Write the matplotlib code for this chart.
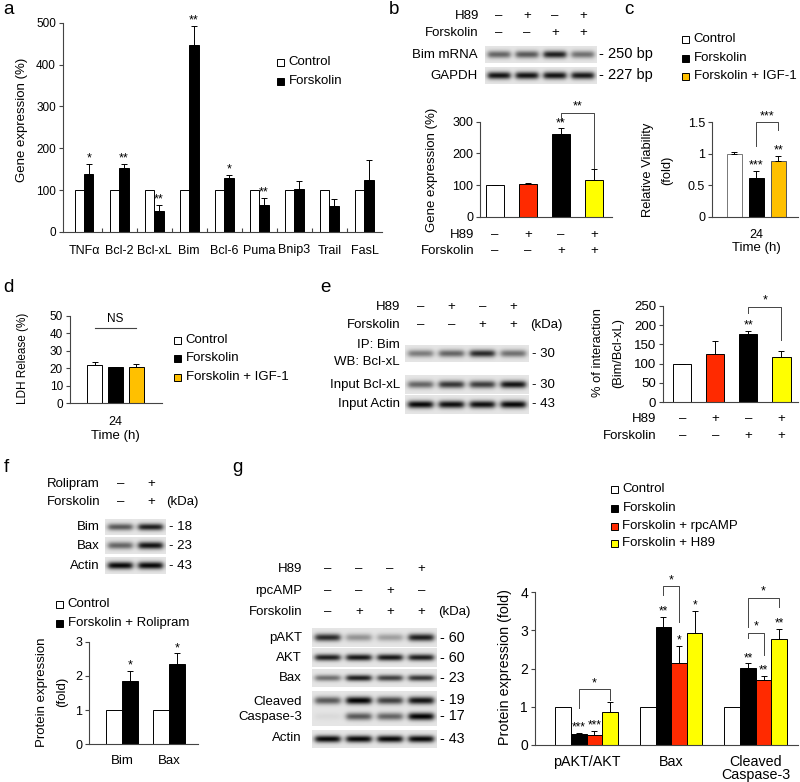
import numpy as np
import matplotlib
matplotlib.use("Agg")
import matplotlib.pyplot as plt

plt.rcParams['font.family'] = ['Liberation Sans', 'DejaVu Sans']

W, H = 800, 782
RED = "#ff2a00"
YEL = "#ffff00"
ORA = "#ffc000"

# ---- data ----
a_genes = ["TNFα", "Bcl-2", "Bcl-xL", "Bim", "Bcl-6", "Puma", "Bnip3", "Trail", "FasL"]
a_control = [100, 100, 100, 100, 100, 100, 100, 100, 100]
a_forsk = [139, 154, 51, 447, 129, 64, 103, 61, 124]
a_forsk_err = [24, 9, 14, 46, 8, 17, 18, 17, 47]
a_stars = ["*", "**", "**", "**", "*", "**", "", "", ""]

b_h89 = ["–", "+", "–", "+"]
b_forsk = ["–", "–", "+", "+"]
b_vals = [100, 104, 261, 115]
b_err = [0, 4, 18, 35]
b_stars = ["", "", "**", ""]
b_bim_bands = [0.55, 0.6, 0.85, 0.5]
b_gapdh_bands = [0.9, 0.9, 0.9, 0.88]

c_vals = [1.0, 0.62, 0.89]
c_err = [0.03, 0.11, 0.08]
c_stars = ["", "***", "**"]

d_vals = [22, 20.5, 21]
d_err = [1.8, 0.5, 1.3]

e_h89 = ["–", "+", "–", "+"]
e_forsk = ["–", "–", "+", "+"]
e_vals = [100, 124, 176, 117]
e_err = [0, 35, 9, 16]
e_stars = ["", "", "**", ""]
e_ip_bands = [0.45, 0.55, 0.8, 0.5]
e_bclxl_bands = [0.55, 0.75, 0.72, 0.9]
e_actin_bands = [0.95, 0.92, 0.92, 0.95]

f_roli = ["–", "+"]
f_forsk = ["–", "+"]
f_groups = ["Bim", "Bax"]
f_ctrl = [1, 1]
f_fr = [1.86, 2.34]
f_err = [0.29, 0.32]
f_bim_bands = [0.6, 0.85]
f_bax_bands = [0.55, 0.9]
f_actin_bands = [0.95, 0.95]

g_h89 = ["–", "–", "–", "+"]
g_rpc = ["–", "–", "+", "–"]
g_forsk = ["–", "+", "+", "+"]
g_groups = ["pAKT/AKT", "Bax", "Cleaved\nCaspase-3"]
g_ctrl = [1, 1, 1]
g_fk = [0.28, 3.10, 2.03]
g_fk_err = [0.03, 0.26, 0.11]
g_rpc_v = [0.27, 2.15, 1.70]
g_rpc_err = [0.10, 0.45, 0.11]
g_h89_v = [0.86, 2.94, 2.77]
g_h89_err = [0.27, 0.58, 0.27]
g_fk_stars = ["***", "**", "**"]
g_rpc_stars = ["***", "*", "**"]
g_h89_stars = ["", "*", "**"]
g_pakt_bands = [0.8, 0.35, 0.3, 0.85]
g_akt_bands = [0.85, 0.88, 0.88, 0.85]
g_bax_bands = [0.5, 0.85, 0.7, 0.75]
g_c19_bands = [0.6, 0.97, 0.7, 0.9]
g_c17_bands = [0.05, 0.6, 0.55, 0.97]
g_actin_bands = [0.95, 0.95, 0.95, 0.95]


fig = plt.figure(figsize=(W / 100, H / 100), dpi=100)
ov = fig.add_axes([0, 0, 1, 1])
ov.set_xlim(0, W)
ov.set_ylim(H, 0)
ov.axis('off')


def ax_px(l, t, r, b):
    ax = fig.add_axes([l / W, 1 - b / H, (r - l) / W, (b - t) / H])
    ax.set_facecolor('none')
    for s in ['top', 'right']:
        ax.spines[s].set_visible(False)
    for s in ['left', 'bottom']:
        ax.spines[s].set_color('#444444')
        ax.spines[s].set_linewidth(0.8)
    ax.tick_params(axis='y', direction='out', length=3, width=0.8, color='#444444', pad=2)
    ax.tick_params(axis='x', length=0)
    return ax


def gel(x0, x1, y0, y1, rows, bg=0.9):
    # rows: list of (intensities, y-fraction of band centre, thickness)
    n = len(rows[0][0])
    w = int((x1 - x0) * 3)
    h = int((y1 - y0) * 3)
    xx = np.linspace(0, n, w)
    yy = np.linspace(0, 1, h)
    img = np.full((h, w), bg)
    for inten, yc, th in rows:
        for i, v in enumerate(inten):
            hx = 1 / (1 + np.exp((np.abs(xx - (i + 0.5)) - 0.4) / 0.05))
            vy = np.exp(-((yy - yc) / th) ** 2)
            img -= 0.92 * v * np.outer(vy, hx)
    ov.imshow(np.clip(img, 0, 1), cmap='gray', vmin=0, vmax=1, aspect='auto',
              extent=(x0, x1, y1, y0), interpolation='bilinear', zorder=1)
    return [x0 + (i + 0.5) * (x1 - x0) / n for i in range(n)]


def T(x, y, s, fs=9.5, ha='center', va='center', **kw):
    ov.text(x, y, s, fontsize=fs, ha=ha, va=va, **kw)


def legend_sq(x, y, color, label, fs=9.5, sz=7):
    ov.add_patch(plt.Rectangle((x - sz / 2, y - sz / 2), sz, sz, facecolor=color,
                               edgecolor='black', lw=0.7, zorder=3))
    T(x + sz / 2 + 5, y, label, fs=fs, ha='left')


def errbars(ax, x, v, e, cap=2):
    ax.errorbar(x, v, yerr=[np.zeros(len(v)), e], fmt='none', ecolor='black',
                elinewidth=0.7, capsize=cap, capthick=0.7)


def stars(ax, x, v, e, s, fs=9):
    for xi, vi, ei, si in zip(x, v, e, s):
        if si:
            ax.annotate(si, (xi, vi + ei), xytext=(0, -0.5), textcoords='offset points',
                        ha='center', va='bottom', fontsize=fs, annotation_clip=False)


def bracket(ax, x1, x2, top, l1, l2, s, fs=9):
    ax.plot([x1, x1, x2, x2], [l1, top, top, l2], color='#444444', lw=0.7, clip_on=False)
    ax.annotate(s, ((x1 + x2) / 2, top), xytext=(0, 0), textcoords='offset points',
                ha='center', va='bottom', fontsize=fs, annotation_clip=False)


def sign_rows(ax, rows, labels, offs, fs=9.5, lab_dx=-6):
    for (signs, lab, dy) in zip(rows, labels, offs):
        for i, s in enumerate(signs):
            ax.annotate(s, (i, 0), xycoords=('data', 'axes fraction'), xytext=(0, -dy),
                        textcoords='offset points', ha='center', va='center', fontsize=fs,
                        annotation_clip=False)
        ax.annotate(lab, (0, 0), xycoords='axes fraction', xytext=(lab_dx, -dy),
                    textcoords='offset points', ha='right', va='center', fontsize=fs,
                    annotation_clip=False)


# ---------------- panel a ----------------
ax = ax_px(63, 22.7, 382, 232)
x = np.arange(len(a_genes))
bw = 0.27
ax.bar(x - bw / 2, a_control, bw, color='white', edgecolor='black', lw=0.7)
ax.bar(x + bw / 2, a_forsk, bw, color='black', edgecolor='black', lw=0.7)
errbars(ax, x + bw / 2, a_forsk, a_forsk_err)
stars(ax, x + bw / 2, a_forsk, a_forsk_err, a_stars)
ax.set_xlim(-0.6, 8.5)
ax.set_ylim(0, 500)
ax.set_yticks(range(0, 501, 100))
ax.set_xticks(x)
ax.set_xticklabels(a_genes, fontsize=9)
ax.tick_params(axis='x', pad=9)
ax.set_xticks(x[:-1] + 0.5, minor=True)
ax.tick_params(axis='x', which='minor', direction='in', length=3, width=0.8, color='#444444')
ax.tick_params(axis='y', labelsize=8.5)
T(22, 120, "Gene expression (%)", fs=9.5, rotation=90)
legend_sq(280, 62, 'white', "Control")
legend_sq(280, 81, 'black', "Forskolin")
T(8, 9, "a", fs=13.5)

# ---------------- panel b ----------------
T(394, 9, "b", fs=13.5)
cx = gel(485, 597, 46, 63, [(b_bim_bands, 0.5, 0.22)])
gel(485, 597, 67, 84, [(b_gapdh_bands, 0.5, 0.22)])
for xi, h, f in zip(cx, b_h89, b_forsk):
    T(xi, 16, h)
    T(xi, 33, f)
T(479, 16, "H89", ha='right')
T(479, 33, "Forskolin", ha='right')
T(478, 55, "Bim mRNA", ha='right')
T(478, 76, "GAPDH", ha='right')
T(599, 54, "- 250 bp", fs=10.5, ha='left')
T(599, 75, "- 227 bp", fs=10.5, ha='left')

ax = ax_px(480, 121.7, 612, 216.7)
x = np.arange(4)
ax.bar(x, b_vals, 0.53, color=['white', RED, 'black', YEL], edgecolor='black', lw=0.7)
errbars(ax, x, b_vals, b_err)
stars(ax, x, b_vals, b_err, b_stars)
bracket(ax, 2, 3, 329, 305, 155, "**")
ax.set_xlim(-0.45, 3.55)
ax.set_ylim(0, 300)
ax.set_yticks([0, 100, 200, 300])
ax.set_xticks([])
ax.tick_params(axis='y', labelsize=9)
sign_rows(ax, [b_h89, b_forsk], ["H89", "Forskolin"], [13.5, 24.5], lab_dx=-4)
T(432, 170, "Gene expression (%)", rotation=90)

# ---------------- panel c ----------------
T(629, 9, "c", fs=13.5)
legend_sq(685, 39, 'white', "Control")
legend_sq(685, 58, 'black', "Forskolin")
legend_sq(685, 76, ORA, "Forskolin + IGF-1")
ax = ax_px(712, 122.3, 798, 216.7)
x = np.arange(3)
ax.bar(x, c_vals, 0.68, color=['white', 'black', ORA], edgecolor=['#777777', 'black', '#555555'], lw=0.7)
errbars(ax, x, c_vals, c_err)
stars(ax, x, c_vals, c_err, c_stars)
bracket(ax, 1, 2, 1.5, 1.13, 1.37, "***")
ax.set_xlim(-1.0, 2.9)
ax.set_ylim(0, 1.5)
ax.set_yticks([0, 0.5, 1, 1.5])
ax.set_yticklabels(["0", "0.5", "1", "1.5"])
ax.set_xticks([1])
ax.set_xticklabels(["24"], fontsize=9)
ax.tick_params(axis='x', pad=9)
ax.tick_params(axis='y', labelsize=9)
T(756, 248, "Time (h)")
T(648, 170, "Relative Viability", fs=9.3, rotation=90)
T(667, 170, "(fold)", fs=9.3, rotation=90)

# ---------------- panel d ----------------
T(8, 287, "d", fs=13.5)
ax = ax_px(70, 315.7, 162, 403.3)
x = np.arange(3)
ax.bar(x, d_vals, 0.72, color=['white', 'black', ORA], edgecolor='black', lw=0.7)
errbars(ax, x, d_vals, d_err)
ax.plot([0, 2], [43, 43], color='#444444', lw=0.8)
ax.text(1, 48, "NS", ha='center', va='center', fontsize=8.5)
ax.set_xlim(-1.18, 3.25)
ax.set_ylim(0, 50)
ax.set_yticks(range(0, 51, 10))
ax.set_xticks([1])
ax.set_xticklabels(["24"], fontsize=9)
ax.tick_params(axis='x', pad=9)
ax.tick_params(axis='y', labelsize=8.5)
T(115, 436, "Time (h)")
T(23, 358, "LDH Release (%)", fs=8.5, rotation=90)
legend_sq(177, 340, 'white', "Control")
legend_sq(177, 358, 'black', "Forskolin")
legend_sq(177, 377, ORA, "Forskolin + IGF-1")

# ---------------- panel e ----------------
T(325, 287, "e", fs=13.5)
cx = gel(405, 529, 345, 362, [(e_ip_bands, 0.5, 0.22)])
gel(405, 529, 375, 394, [(e_bclxl_bands, 0.5, 0.2)])
gel(405, 529, 395, 414, [(e_actin_bands, 0.5, 0.2)])
for xi, h, f in zip(cx, e_h89, e_forsk):
    T(xi, 307, h)
    T(xi, 325, f)
T(400, 307, "H89", ha='right')
T(400, 325, "Forskolin", ha='right')
T(546, 325, "(kDa)")
T(400, 345, "IP: Bim", ha='right')
T(400, 362, "WB: Bcl-xL", ha='right')
T(400, 385, "Input Bcl-xL", ha='right')
T(400, 404, "Input Actin", ha='right')
T(532, 354, "- 30", ha='left')
T(532, 385, "- 30", ha='left')
T(532, 404, "- 43", ha='left')

ax = ax_px(663, 305.7, 798, 402.3)
x = np.arange(4)
ax.bar(x, e_vals, 0.55, color=['white', RED, 'black', YEL], edgecolor='black', lw=0.7)
errbars(ax, x, e_vals, e_err)
stars(ax, x, e_vals, e_err, e_stars)
bracket(ax, 2, 3, 247, 232, 160, "*")
ax.set_xlim(-0.58, 3.5)
ax.set_ylim(0, 250)
ax.set_yticks(range(0, 251, 50))
ax.set_xticks([])
ax.tick_params(axis='y', labelsize=9.5)
sign_rows(ax, [e_h89, e_forsk], ["H89", "Forskolin"], [12, 24.5], lab_dx=-5)
T(598, 353, "% of interaction", fs=9.3, rotation=90)
T(618, 353, "(Bim/Bcl-xL)", fs=9.3, rotation=90)

# ---------------- panel f ----------------
T(6, 467, "f", fs=13.5)
cx = gel(105, 166, 519, 535, [(f_bim_bands, 0.5, 0.22)])
gel(105, 166, 537, 554, [(f_bax_bands, 0.5, 0.22)])
gel(105, 166, 557, 574, [(f_actin_bands, 0.5, 0.22)])
for xi, r, f in zip(cx, f_roli, f_forsk):
    T(xi, 484, r)
    T(xi, 502, f)
T(100, 484, "Rolipram", ha='right')
T(100, 502, "Forskolin", ha='right')
T(182, 502, "(kDa)")
T(100, 527, "Bim", ha='right')
T(100, 546, "Bax", ha='right')
T(100, 566, "Actin", ha='right')
T(169, 527, "- 18", ha='left')
T(169, 546, "- 23", ha='left')
T(169, 566, "- 43", ha='left')
legend_sq(59, 604, 'white', "Control")
legend_sq(59, 623, 'black', "Forskolin + Rolipram")

ax = ax_px(89, 641.7, 198, 744.3)
x = np.arange(2)
bw = 0.34
ax.bar(x - bw / 2, f_ctrl, bw, color='white', edgecolor='black', lw=0.7)
ax.bar(x + bw / 2, f_fr, bw, color='black', edgecolor='black', lw=0.7)
errbars(ax, x + bw / 2, f_fr, f_err)
stars(ax, x + bw / 2, f_fr, f_err, ["*", "*"])
ax.set_xlim(-0.7, 1.62)
ax.set_ylim(0, 3)
ax.set_yticks([0, 1, 2, 3])
ax.set_xticks(x)
ax.set_xticklabels(f_groups, fontsize=9.5)
ax.tick_params(axis='x', pad=8)
ax.tick_params(axis='y', labelsize=9)
T(42, 692, "Protein expression", rotation=90)
T(62, 692, "(fold)", rotation=90)

# ---------------- panel g ----------------
T(237, 467, "g", fs=13.5)
cx = gel(312, 437, 628, 647, [(g_pakt_bands, 0.5, 0.2)])
gel(312, 437, 648, 667, [(g_akt_bands, 0.5, 0.18)])
gel(312, 437, 669, 687, [(g_bax_bands, 0.5, 0.18)])
gel(312, 437, 691, 726, [(g_c19_bands, 0.27, 0.11), (g_c17_bands, 0.73, 0.11)])
gel(312, 437, 730, 748, [(g_actin_bands, 0.5, 0.2)])
for xi, h, r, f in zip(cx, g_h89, g_rpc, g_forsk):
    T(xi, 569, h)
    T(xi, 591, r)
    T(xi, 612, f)
T(302, 569, "H89", ha='right')
T(302, 591, "rpcAMP", ha='right')
T(302, 612, "Forskolin", ha='right')
T(454, 612, "(kDa)")
T(302, 638, "pAKT", ha='right')
T(302, 658, "AKT", ha='right')
T(302, 678, "Bax", ha='right')
T(302, 702, "Cleaved", ha='right')
T(302, 717, "Caspase-3", ha='right')
T(302, 738, "Actin", ha='right')
for y, s in zip([638, 658, 678, 700, 716, 739], ["60", "60", "23", "19", "17", "43"]):
    T(440, y, "- " + s, fs=10.3, ha='left')

legend_sq(614, 489, 'white', "Control")
legend_sq(614, 508, 'black', "Forskolin")
legend_sq(614, 526, RED, "Forskolin + rpcAMP")
legend_sq(614, 543, YEL, "Forskolin + H89")

ax = ax_px(535, 592.3, 798, 745)
x = np.arange(3)
bw = 0.185
xs = [x - 1.5 * bw, x - 0.5 * bw, x + 0.5 * bw, x + 1.5 * bw]
ax.bar(xs[0], g_ctrl, bw, color='white', edgecolor='black', lw=0.7)
ax.bar(xs[1], g_fk, bw, color='black', edgecolor='black', lw=0.7)
ax.bar(xs[2], g_rpc_v, bw, color=RED, edgecolor='black', lw=0.7)
ax.bar(xs[3], g_h89_v, bw, color=YEL, edgecolor='black', lw=0.7)
errbars(ax, xs[1], g_fk, g_fk_err)
errbars(ax, xs[2], g_rpc_v, g_rpc_err)
errbars(ax, xs[3], g_h89_v, g_h89_err)
stars(ax, xs[1], g_fk, g_fk_err, g_fk_stars, fs=8.5)
stars(ax, xs[2], g_rpc_v, g_rpc_err, g_rpc_stars, fs=8.5)
stars(ax, xs[3], g_h89_v, g_h89_err, g_h89_stars, fs=8.5)
bracket(ax, xs[1][0], xs[3][0], 1.46, 0.97, 1.18, "*")
bracket(ax, xs[1][1], xs[2][1], 4.16, 3.93, 3.23, "*")
bracket(ax, xs[1][2], xs[2][2], 2.94, 2.8, 2.36, "*")
bracket(ax, xs[1][2], xs[3][2], 3.86, 3.1, 3.62, "*")
ax.set_xlim(-0.61, 2.5)
ax.set_ylim(0, 4)
ax.set_yticks([0, 1, 2, 3, 4])
ax.set_xticks(x)
ax.set_xticklabels(g_groups, fontsize=10.3, va='top', linespacing=0.95)
ax.tick_params(axis='x', pad=7)
ax.tick_params(axis='y', labelsize=10)
T(505, 667, "Protein expression (fold)", fs=10.3, rotation=90)

fig.savefig("out.png", dpi=100)
